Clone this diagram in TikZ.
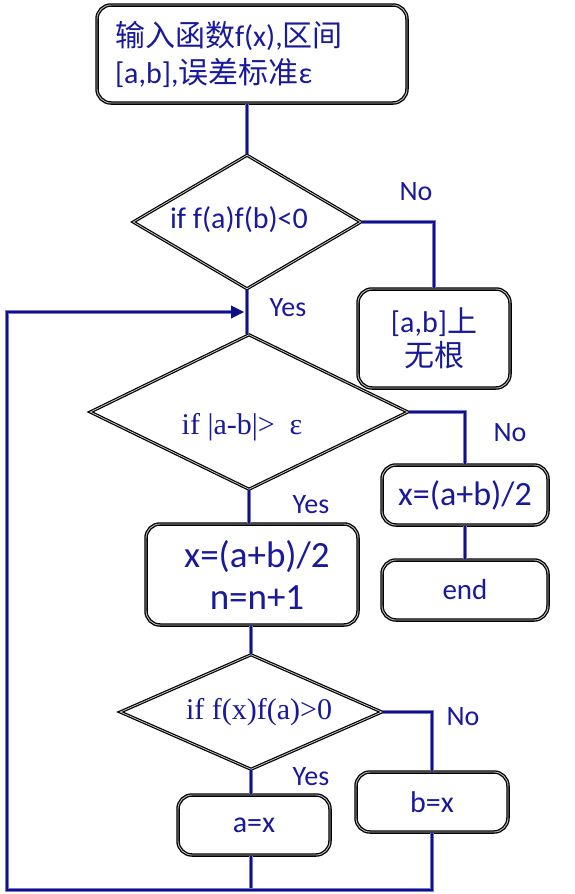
\documentclass[tikz,border=0pt]{standalone}
\usepackage{fontspec}
\setmainfont{Carlito}
\newfontfamily\cjk{Noto Sans CJK SC}
\newfontfamily\tms{Liberation Serif}
\usetikzlibrary{shapes.geometric,arrows.meta}
\definecolor{txtblue}{RGB}{25,25,155}
\definecolor{lineblue}{RGB}{15,15,135}
\definecolor{lineedge}{RGB}{120,120,205}
\begin{document}
\begin{tikzpicture}[x=1pt,y=-1pt,
  box/.style={draw=black, line width=1.3pt, double=gray!50, double distance=0.9pt, rounded corners=14pt, fill=white, text=txtblue, inner sep=0pt, align=center},
  dia/.style={diamond, draw=black, line width=1.2pt, double=gray!45, double distance=0.8pt, fill=white, inner sep=0pt},
  flow/.style={preaction={draw=lineedge, line width=4.4pt}, draw=lineblue, line width=2.6pt},
  lbl/.style={text=txtblue, font=\fontsize{28}{32}\selectfont, inner sep=0pt},
  dtxt/.style={text=txtblue, font=\fontsize{30}{34}\selectfont, inner sep=0pt}
]
\useasboundingbox (0,0) rectangle (574,894);

% nodes
\node[box, minimum width=310pt, minimum height=98pt, text width=274pt, align=left,
      font=\fontsize{30}{37}\selectfont] (start) at (252,54)
  {{\cjk 输入函数}f(x),{\cjk 区间}\\\relax [a,b],{\cjk 误差标准}ε};

\node[dia, minimum width=228pt, minimum height=134pt] (d1) at (247,222) {};
\node[dtxt] (d1t) at (239,220) {if f(a)f(b)<0};

\node[box, minimum width=152pt, minimum height=99pt, font=\fontsize{30}{34}\selectfont] (noroot) at (434,338.5)
  {[a,b]{\cjk 上}\\{\cjk 无根}};

\node[dia, minimum width=318pt, minimum height=155pt] (d2) at (249,412) {};
\node[dtxt, font=\tms\fontsize{30}{34}\selectfont] (d2t) at (242,427) {if |a-b|>\ \ ε};

\node[box, minimum width=166pt, minimum height=60pt, font=\fontsize{34}{38}\selectfont] (xend) at (465,495) {x=(a+b)/2};
\node[box, minimum width=166pt, minimum height=60pt, font=\fontsize{29}{34}\selectfont] (end) at (465,590) {end};

\node[box, minimum width=212pt, minimum height=101pt, font=\fontsize{37}{42}\selectfont] (xmid) at (252,574.5)
  {\hspace*{10pt}x=(a+b)/2\\\hspace*{10pt}n=n+1};

\node[dia, minimum width=262pt, minimum height=115pt] (d3) at (251,712) {};
\node[dtxt, font=\tms\fontsize{30}{34}\selectfont] (d3t) at (259,712) {if f(x)f(a)>0};

\node[box, minimum width=152pt, minimum height=60pt, font=\fontsize{30}{34}\selectfont] (ax) at (254,825) {a=x};
\node[box, minimum width=152pt, minimum height=60pt, font=\fontsize{30}{34}\selectfont] (bx) at (432,802) {b=x};

% labels
\node[lbl] (no1) at (416,192) {No};
\node[lbl] (yes1) at (288,308) {Yes};
\node[lbl] (no2) at (510,433) {No};
\node[lbl] (yes2) at (311,505) {Yes};
\node[lbl] (no3) at (463,717) {No};
\node[lbl] (yes3) at (311,777) {Yes};

% coordinates
\coordinate (bot) at (7,890);
\coordinate (ltop) at (7,312);
\coordinate (join) at (244,312);

% connectors
\draw[flow] (d1.north |- start.south) -- (d1.north);
\draw[flow] (d1.east) -| (noroot.north);
\draw[flow] (d1.south) -- (d1.south |- d2.north);
\draw[flow] (d2.east) -| (xend.north);
\draw[flow] (xend.south) -- (end.north);
\draw[flow] (d2.south) -- (xmid.north -| d2.south);
\draw[flow] (xmid.south -| d3.north) -- (d3.north);
\draw[flow] (d3.east) -| (bx.north);
\draw[flow] (d3.south) -- (ax.north -| d3.south);
\draw[flow] (ax.south -| d3.south) -- (bot -| d3.south);
\draw[flow, -{Triangle[length=13pt,width=12pt]}] (bx.south) |- (bot) -- (ltop) -- (join);
\end{tikzpicture}
\end{document}
